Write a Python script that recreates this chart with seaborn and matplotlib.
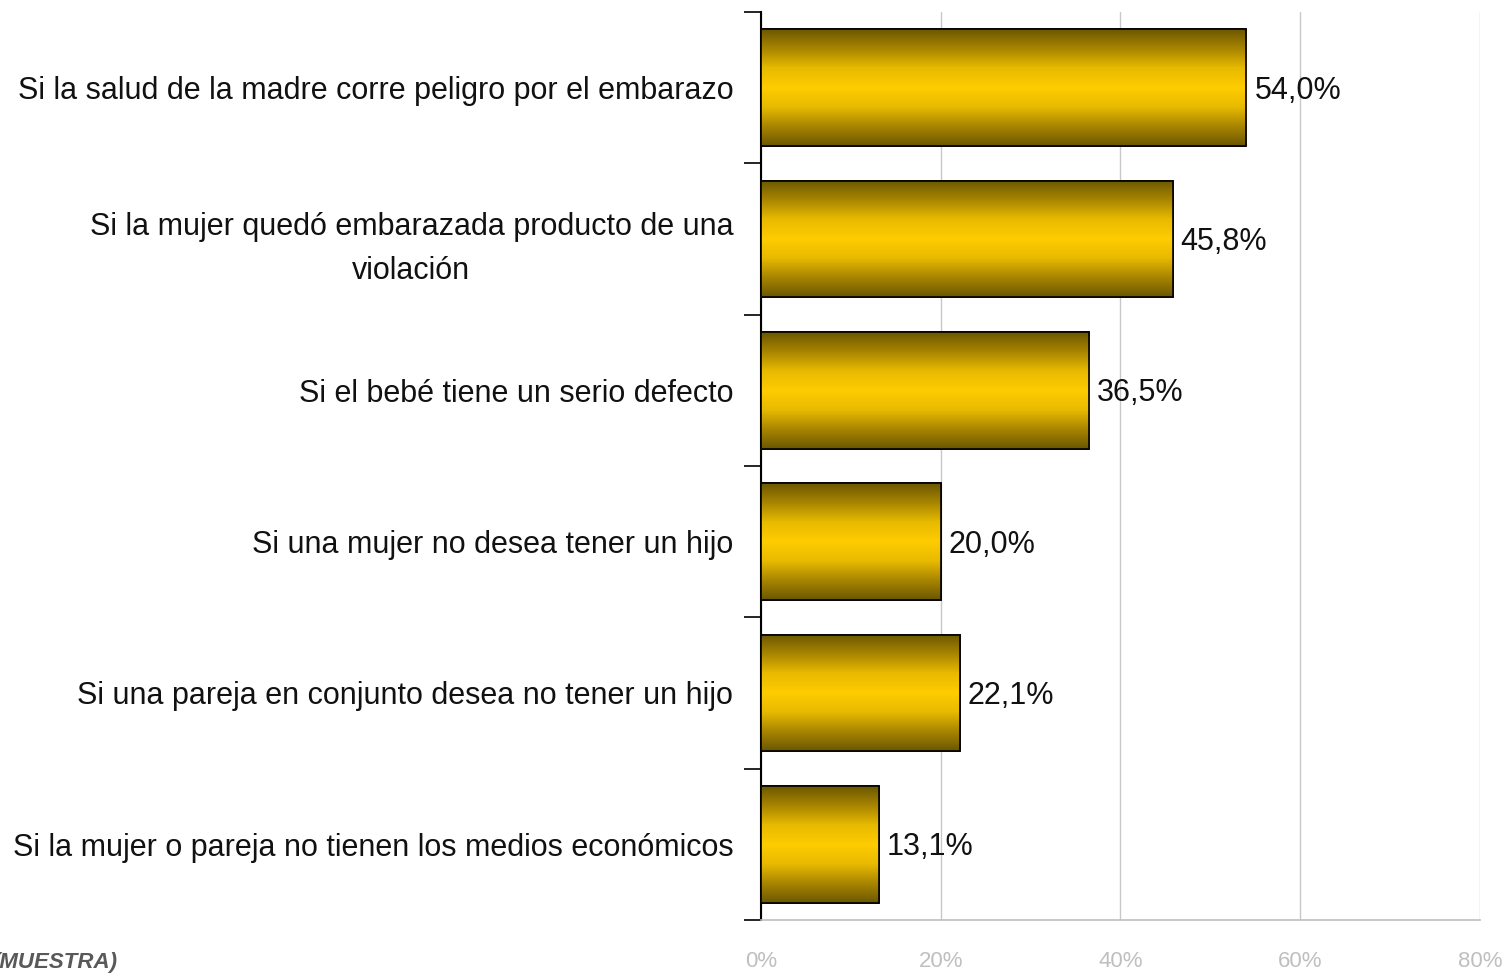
import numpy as np
import pandas as pd
import matplotlib
matplotlib.use('Agg')
import matplotlib.pyplot as plt
import seaborn as sns
from matplotlib.colors import LinearSegmentedColormap
from matplotlib.ticker import FixedLocator

categories = [
    'Si la salud de la madre corre peligro por el embarazo',
    'Si la mujer quedó embarazada producto de una\nviolación',
    'Si el bebé tiene un serio defecto',
    'Si una mujer no desea tener un hijo',
    'Si una pareja en conjunto desea no tener un hijo',
    'Si la mujer o pareja no tienen los medios económicos',
]
values = [54.0, 45.8, 36.5, 20.0, 22.1, 13.1]
value_labels = ['54,0%', '45,8%', '36,5%', '20,0%', '22,1%', '13,1%']
x_ticks = [0, 20, 40, 60, 80]
x_tick_labels = ['0%', '20%', '40%', '60%', '80%']

sns.set_style('white')
plt.rcParams['font.family'] = ['Liberation Sans', 'DejaVu Sans']

df = pd.DataFrame({'cat': categories, 'val': values})

fig = plt.figure(figsize=(15.04, 9.73), dpi=100)
ax = fig.add_axes([0.506, 0.0545, 0.478, 0.9332])

sns.barplot(data=df, y='cat', x='val', orient='h', color='#FFCC00',
            width=0.77, edgecolor='black', linewidth=1.2, ax=ax, zorder=3)

# gradient fill: dark olive at edges, bright gold in middle
cmap = LinearSegmentedColormap.from_list(
    'gold', ['#6B5700', '#A88500', '#E8BA00', '#FFCC00', '#E8BA00', '#A88500', '#6B5700'])
grad = np.linspace(0, 1, 256).reshape(-1, 1)
for p in ax.patches:
    x0, y0 = p.get_x(), p.get_y()
    w, h = p.get_width(), p.get_height()
    im = ax.imshow(grad, cmap=cmap, aspect='auto', extent=[x0, x0 + w, y0 + h, y0],
                   zorder=3.5, interpolation='bicubic')
    im.set_clip_path(p)
    ax.add_patch(plt.Rectangle((x0, y0), w, h, fill=False, edgecolor='black',
                               linewidth=1.2, zorder=4))

for i, (v, lab) in enumerate(zip(values, value_labels)):
    ax.text(v + 0.9, i + 0.02, lab, va='center', ha='left', fontsize=22, color='#111111', zorder=5)

ax.set_xlim(0, 80)
ax.set_ylim(len(categories) - 0.5, -0.5)
ax.set_xticks(x_ticks)
ax.set_xticklabels(x_tick_labels, fontsize=16, color='#BFBFBF')
ax.tick_params(axis='x', length=8, color='#BFBFBF', width=1, pad=14)
ax.grid(axis='x', color='#C8C8C8', linewidth=1, zorder=0)
ax.set_axisbelow(True)

# category labels at centres, ticks at boundaries
ax.yaxis.set_major_locator(FixedLocator(np.arange(-0.5, len(categories), 1)))
ax.set_yticklabels([''] * (len(categories) + 1))
ax.yaxis.set_minor_locator(FixedLocator(np.arange(len(categories))))
ax.set_yticklabels(categories, minor=True, fontsize=22, color='#111111', ha='right',
                   multialignment='center', linespacing=1.6)
ax.tick_params(axis='y', which='major', length=12, width=1.2, color='black', left=True)
ax.tick_params(axis='y', which='minor', length=0, pad=20)

for s in ['top', 'right']:
    ax.spines[s].set_visible(False)
ax.spines['left'].set_color('black')
ax.spines['left'].set_linewidth(1.5)
ax.spines['bottom'].set_color('#BFBFBF')
ax.spines['bottom'].set_linewidth(1.2)
ax.set_xlabel('')
ax.set_ylabel('')

fig.text(-0.005, 0.0103, '(MUESTRA)', fontsize=16, fontweight='bold', fontstyle='italic',
         color='#595959', ha='left', va='center')

fig.savefig('out.png', dpi=100)
